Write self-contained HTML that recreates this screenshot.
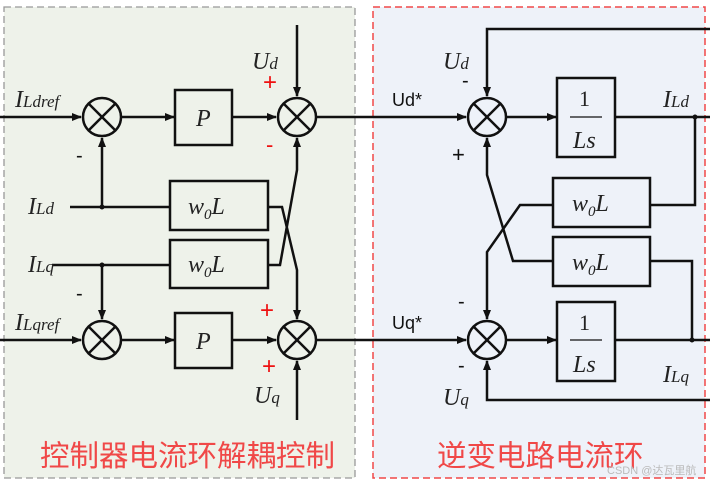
<!DOCTYPE html>
<html><head><meta charset="utf-8"><style>
html,body{margin:0;padding:0;background:#fff;}
svg{display:block}
.t{font-family:"Liberation Serif",serif;font-style:italic;fill:#222}
.s{font-family:"Liberation Sans",sans-serif}
.cn{font-family:"Liberation Sans","Noto Sans CJK SC",sans-serif;fill:#f04848;font-size:29.5px}
</style></head><body>
<svg width="710" height="484" viewBox="0 0 710 484" xmlns="http://www.w3.org/2000/svg">
<defs><marker id="a" markerWidth="10" markerHeight="8" refX="9" refY="4" orient="auto" markerUnits="userSpaceOnUse"><path d="M0,0 L10,4 L0,8 Z" fill="#111"/></marker>
<g id="sj"><circle cx="0" cy="0" r="19"/><line x1="-13" y1="-13" x2="13" y2="13"/><line x1="-13" y1="13" x2="13" y2="-13"/></g>
</defs>
<rect x="4" y="7" width="351" height="471" fill="#eef2ea" stroke="#999" stroke-dasharray="7,4" stroke-width="1.3"/>
<rect x="373" y="7" width="332" height="471" fill="#eef2f9" stroke="#f04848" stroke-dasharray="7,4" stroke-width="1.5"/>
<g stroke="#111" stroke-width="2.5" fill="none">
<line x1="0" y1="117" x2="81" y2="117" marker-end="url(#a)"/>
<line x1="122" y1="117" x2="174" y2="117" marker-end="url(#a)"/>
<line x1="232" y1="117" x2="276" y2="117" marker-end="url(#a)"/>
<line x1="297" y1="25" x2="297" y2="96" marker-end="url(#a)"/>
<line x1="317" y1="117" x2="466" y2="117" marker-end="url(#a)"/>
<line x1="507" y1="117" x2="556" y2="117" marker-end="url(#a)"/>
<line x1="615" y1="117" x2="710" y2="117"/>
<polyline points="710,29 487,29 487,96" marker-end="url(#a)"/>
<line x1="0" y1="340" x2="81" y2="340" marker-end="url(#a)"/>
<line x1="122" y1="340" x2="174" y2="340" marker-end="url(#a)"/>
<line x1="232" y1="340" x2="276" y2="340" marker-end="url(#a)"/>
<line x1="297" y1="420" x2="297" y2="361" marker-end="url(#a)"/>
<line x1="317" y1="340" x2="466" y2="340" marker-end="url(#a)"/>
<line x1="507" y1="340" x2="556" y2="340" marker-end="url(#a)"/>
<line x1="615" y1="340" x2="710" y2="340"/>
<polyline points="710,400 487,400 487,361" marker-end="url(#a)"/>
<line x1="70" y1="207" x2="170" y2="207"/>
<line x1="102" y1="207" x2="102" y2="138" marker-end="url(#a)"/>
<line x1="52" y1="265" x2="170" y2="265"/>
<line x1="102" y1="265" x2="102" y2="319" marker-end="url(#a)"/>
<polyline points="268,207 282,207 297,270 297,319" marker-end="url(#a)"/>
<polyline points="268,265 280,265 297,170 297,138" marker-end="url(#a)"/>
<polyline points="650,205 695,205 695,117"/>
<polyline points="650,261 692,261 692,340"/>
<polyline points="553,205 520,205 487,252 487,319" marker-end="url(#a)"/>
<polyline points="553,261 513,261 487,175 487,138" marker-end="url(#a)"/>
<rect x="175" y="90" width="57" height="55"/>
<rect x="175" y="313" width="57" height="55"/>
<rect x="170" y="181" width="98" height="49"/>
<rect x="170" y="240" width="98" height="48"/>
<rect x="557" y="78" width="58" height="79"/>
<rect x="557" y="302" width="58" height="79"/>
<rect x="553" y="178" width="97" height="49"/>
<rect x="553" y="237" width="97" height="49"/>
<use href="#sj" x="102" y="117"/><use href="#sj" x="297" y="117"/><use href="#sj" x="487" y="117"/>
<use href="#sj" x="102" y="340"/><use href="#sj" x="297" y="340"/><use href="#sj" x="487" y="340"/>
</g>
<g fill="#111"><circle cx="102" cy="207" r="2.5"/><circle cx="102" cy="265" r="2.5"/><circle cx="695" cy="117" r="2.5"/><circle cx="692" cy="340" r="2.5"/></g>
<g stroke="#111" stroke-width="1.3"><line x1="570" y1="117" x2="602" y2="117"/><line x1="570" y1="340" x2="602" y2="340"/></g>
<g class="t" font-size="24">
<text x="15" y="107">I<tspan font-size="17">Ldref</tspan></text>
<text x="28" y="214">I<tspan font-size="17">Ld</tspan></text>
<text x="28" y="272">I<tspan font-size="17">Lq</tspan></text>
<text x="15" y="330">I<tspan font-size="17">Lqref</tspan></text>
<text x="252" y="69">U<tspan font-size="17">d</tspan></text>
<text x="254" y="403">U<tspan font-size="17">q</tspan></text>
<text x="443" y="69">U<tspan font-size="17">d</tspan></text>
<text x="443" y="405">U<tspan font-size="17">q</tspan></text>
<text x="663" y="107">I<tspan font-size="17">Ld</tspan></text>
<text x="663" y="382">I<tspan font-size="17">Lq</tspan></text>
<text x="196" y="126">P</text>
<text x="196" y="349">P</text>
<text x="188" y="214">w<tspan font-size="15" dy="5">0</tspan><tspan dy="-5">L</tspan></text>
<text x="188" y="272">w<tspan font-size="15" dy="5">0</tspan><tspan dy="-5">L</tspan></text>
<text x="572" y="211">w<tspan font-size="15" dy="5">0</tspan><tspan dy="-5">L</tspan></text>
<text x="572" y="270">w<tspan font-size="15" dy="5">0</tspan><tspan dy="-5">L</tspan></text>
<text x="573" y="148">Ls</text>
<text x="573" y="372">Ls</text>
</g>
<g font-family="Liberation Serif,serif" font-size="22" fill="#222"><text x="579" y="106">1</text><text x="579" y="330">1</text></g>
<g class="s" font-size="18" fill="#111">
<text x="392" y="106">Ud*</text><text x="392" y="329">Uq*</text>
<text x="452" y="162" font-size="22">+</text>
<text x="462" y="87" font-size="20">-</text>
<text x="458" y="308" font-size="20">-</text>
<text x="458" y="372" font-size="20">-</text>
<text x="76" y="162" font-size="20">-</text>
<text x="76" y="300" font-size="20">-</text>
</g>
<g class="s" fill="#ee1111" font-size="24">
<text x="263" y="90">+</text><text x="266" y="152" font-size="22">-</text>
<text x="260" y="318">+</text><text x="262" y="374">+</text>
</g>
<text class="cn" x="40" y="466">控制器电流环解耦控制</text>
<text class="cn" x="437" y="466">逆变电路电流环</text>
<text x="607" y="474" font-family="Liberation Sans,'Noto Sans CJK SC',sans-serif" font-size="11" fill="#bbb">CSDN @达瓦里航</text>
</svg>
</body></html>
